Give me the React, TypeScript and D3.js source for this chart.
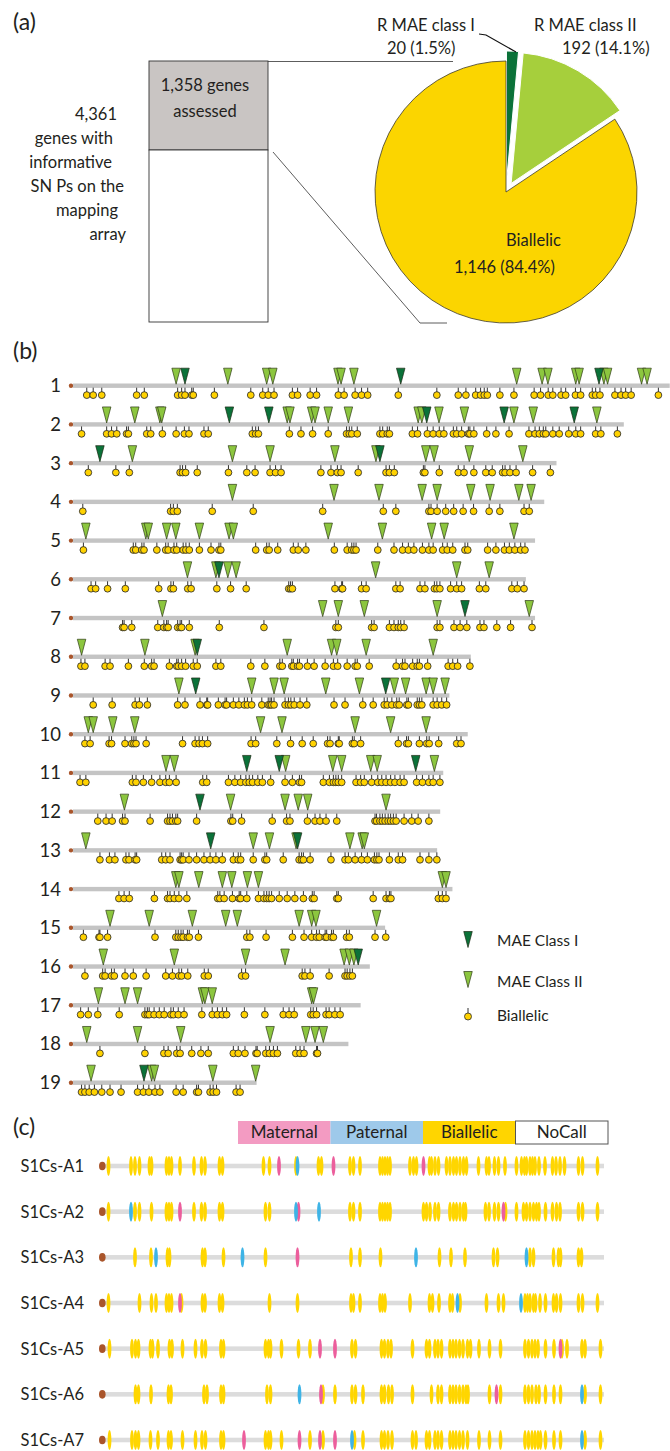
import React from 'react';
import * as d3 from 'd3';

// ---------- panel (a) data ----------
const pieLabels = ['R MAE class I', 'R MAE class II', 'Biallelic'];
const pieValues = [20, 192, 1146];
const piePercents = ['1.5%', '14.1%', '84.4%'];
const leftNote = ['4,361', 'genes with', 'informative', 'SN Ps on the', 'mapping', 'array'];
const assessedNote = ['1,358 genes', 'assessed'];

// ---------- panel (b) data (positions in Mb) ----------
const chromosomes = ['1', '2', '3', '4', '5', '6', '7', '8', '9', '10', '11', '12', '13', '14', '15', '16', '17', '18', '19'];
const chrLengths = [195, 180, 158, 154, 151, 148, 151, 130, 123, 129, 121, 120, 119, 124, 102, 97, 94, 90, 60];

const maeClassI = [
  [36.6, 107.1, 171.9],
  [51.1, 64, 115.6, 140.9, 163.8],
  [8.8, 100.3],
  [],
  [],
  [47.7],
  [128.1],
  [40.6],
  [40.1, 102.2],
  [],
  [56.8, 67.4, 112],
  [41.5],
  [45, 73.4],
  [],
  [],
  [93.2],
  [],
  [],
  [23.2],
];

const maeClassII = [
  [33.7, 50.6, 63.3, 65.3, 86.6, 87.6, 91.8, 145, 153.3, 155.2, 164.3, 165.4, 173.5, 174.7, 185.8, 187.6],
  [11, 20.2, 28.4, 29, 70, 70.9, 78, 79.1, 83.4, 90, 112.8, 114, 119.6, 127.9, 144.1, 150.4, 171.2],
  [19.4, 52.1, 64.4, 85.6, 99, 115.3, 118, 129.5, 147],
  [52.1, 85.3, 100, 114.1, 119, 130, 136.3, 145.7, 149.7],
  [4.2, 23.8, 24.6, 30.6, 33.6, 41.3, 51, 52.4, 83.4, 101.1, 117.2, 121.3, 144.1],
  [37.4, 46.7, 50.6, 53.3, 98.9, 125.4, 136],
  [29.2, 81.6, 86.7, 95.2, 119, 149.1],
  [2.8, 23.5, 39.9, 70, 84.5, 86.2, 95.8, 117.7],
  [34.6, 58.4, 65.7, 69, 82.6, 93.6, 105, 108.7, 115.4, 117.7, 121.6],
  [5, 6.6, 13, 20.2, 61.3, 68.3, 92.2, 103.8, 115.4],
  [30.4, 33.1, 69.5, 84.9, 87.8, 97.3, 99.4, 118.1],
  [16.8, 51.5, 69.3, 73.6, 76.7, 102.3],
  [4.2, 58.9, 64.2, 72.9, 90.5, 94.5, 95.2],
  [33.6, 34.6, 41.1, 48.8, 51.9, 57, 60.6, 120.7, 121.9],
  [12.1, 24.9, 39, 49.9, 53.7, 73.9, 78, 79.4, 99.2],
  [9.9, 33.1, 56.4, 69.3, 88.6, 90.3, 91.8],
  [8.3, 17, 21.1, 42.3, 43.1, 45.5, 78, 78.6],
  [4.5, 21.1, 35.2, 64.4, 76.1, 79.1, 81.8],
  [5.9, 25.7, 26.6, 45.7, 59.7],
];

const biallelicGenes = [
  [4.5, 6.6, 9.4, 20.8, 23.3, 34.2, 35.5, 36.6, 38.8, 39.3, 46.2, 58.1, 62, 63.8, 65.7, 71.7, 73.4, 77.5, 79.6, 86.7, 88.6, 92.2, 94.3, 96.3, 106.3, 118.9, 125.9, 128.4, 131.6, 133.2, 134.4, 135.4, 139.5, 144.1, 150.7, 152.8, 155.3, 156.8, 159.5, 161, 164.2, 165.9, 169.7, 170.8, 172.2, 177.1, 179.1, 180.6, 182.4, 191.3],
  [2.8, 11, 12.6, 14.3, 17.5, 18.1, 24.1, 25.4, 29.2, 33.7, 36.4, 37.9, 42.8, 44.2, 58.6, 59.7, 60.6, 70.7, 74.5, 78.3, 83.4, 89.4, 90.3, 91.1, 92.9, 100.3, 101.2, 102.7, 103.4, 110.9, 112.6, 115.8, 117.7, 119.7, 121.2, 124.3, 125.4, 127, 129.2, 129.7, 131, 135.2, 138.2, 142.5, 149, 151, 152.4, 153.7, 154.5, 156.8, 158.9, 162, 164.3, 165.9, 170.8, 172.5, 177.9],
  [5, 14, 18.4, 35, 35.8, 36.8, 40.6, 50.8, 56.8, 59.5, 64.4, 66.2, 68, 81, 84.3, 86.4, 87.6, 93.2, 102.3, 103.4, 105, 114.5, 115, 119.7, 125.9, 127.8, 131, 134.9, 137, 140.4, 141.2, 142.8, 144.8, 150.2, 156],
  [3.2, 31.9, 32.8, 34.1, 45.5, 58.9, 81.6, 101.4, 105.5, 116.3, 117, 119, 121.8, 124.4, 127.5, 130.9, 136, 139.5, 147.4, 149.1],
  [3.4, 19.7, 20.5, 22.5, 23.2, 27.4, 30.3, 31.1, 33, 33.9, 36, 36.9, 38, 41.3, 45.1, 47.7, 48.3, 59.7, 63.3, 64.1, 66.9, 72, 73.6, 76.1, 85.4, 89.6, 91.1, 91.8, 92.5, 99.6, 104.9, 107.7, 109.6, 111.4, 114.2, 116.3, 117.7, 120.8, 122.3, 124.1, 128.1, 129, 135.5, 138.2, 141, 142.6, 144.4, 146.3, 147.7],
  [5.9, 7.4, 11.3, 17.1, 28, 32, 32.8, 37.5, 38.6, 47, 51.5, 56.6, 70.5, 71.1, 71.7, 85.6, 87.8, 88.1, 94.3, 95.8, 105.5, 106.9, 113.4, 115, 118.1, 118.9, 119.9, 123.4, 125.4, 127, 132.8, 134.9, 143.4, 145.2, 147.4],
  [16.2, 16.7, 19.2, 27.7, 29.7, 30.6, 31.1, 34.2, 35, 35.5, 38, 47.8, 62.4, 85.9, 86.7, 97.6, 98.4, 103.4, 104.9, 106.3, 107.1, 108.2, 119, 119.9, 124.5, 126.5, 128.7, 133, 134.3, 138.5, 143, 150],
  [2.6, 3.9, 10.5, 12.1, 18.1, 23.3, 25.7, 26.5, 31.5, 33.9, 34.4, 35.5, 36.8, 39.3, 40.6, 46.7, 48.3, 58.1, 62.7, 67.6, 68.4, 71.5, 72, 73.4, 74, 76.6, 78.8, 82.4, 85.1, 86.5, 89.6, 92.2, 92.9, 96.8, 105.6, 107.7, 108.5, 111, 112.5, 113.2, 115.9, 122.6, 124.1, 125.7, 129.7],
  [6.6, 12.8, 20.3, 21.7, 24.3, 34.2, 36.6, 41.5, 43.7, 44, 47.5, 49.7, 50.2, 52.4, 54.2, 56, 57, 58.4, 61.7, 63.8, 64.4, 64.9, 65.7, 69.3, 70.4, 71.2, 72.3, 74.2, 76.4, 85.3, 88.9, 94.7, 98.1, 101.7, 102.7, 104.2, 105.8, 106.6, 109.1, 109.6, 112.5, 113.2, 114, 117.7, 119, 120.5, 122.1],
  [3.9, 5.6, 11.8, 12.6, 17, 19.2, 19.9, 20.6, 23.9, 35.8, 39.9, 41.2, 42.3, 44, 58.2, 59.7, 66.6, 71.1, 74.9, 78.5, 83.2, 84, 86.7, 87, 91.3, 91.9, 94, 106.3, 109, 109.6, 113.2, 115.6, 116.4, 119.5, 125.4, 126.8],
  [2.3, 4.2, 19.4, 20.6, 23, 25.7, 28.4, 30.3, 31.5, 33.7, 42.4, 43.7, 50.8, 52.9, 54.8, 56.5, 57.6, 58.7, 60.4, 61.9, 64.6, 69.3, 71.7, 74, 74.7, 81.8, 83.8, 85.1, 85.9, 86.7, 87.8, 92.5, 94, 95.2, 97.6, 99.6, 100.9, 102.3, 103.8, 105.2, 106.9, 108.2, 112.3, 114.2, 116.3, 117.7, 119.9],
  [8.1, 10.8, 12.8, 16.2, 17, 25.2, 30.9, 31.7, 32.5, 33.6, 34.2, 40.4, 51.6, 52.2, 55.1, 65.1, 69.8, 70.9, 76.6, 79.1, 80.7, 82.7, 86.2, 98.7, 99.2, 100.3, 101.1, 102, 103, 103.8, 104.7, 105.6, 108.2, 110.7, 112.8, 116.3],
  [8.8, 11.9, 13.7, 17.3, 18.3, 20.3, 20.8, 29, 30.3, 31.7, 35, 35.5, 36, 37.9, 40.4, 42.8, 44.8, 46.7, 48.8, 52.4, 54, 54.8, 58.9, 62.7, 63.3, 68.7, 73.9, 74.7, 75.3, 77.5, 84.3, 88.9, 90, 92.2, 94.3, 96.2, 98.5, 99.3, 100, 103.4, 106.3, 107.7, 113.4, 116.3, 118.9],
  [15, 16.7, 18.4, 26.6, 30.9, 31.7, 33.1, 34.6, 37.2, 47.3, 48, 49.4, 52.1, 54.3, 54.8, 56.8, 60.6, 62.4, 63.3, 64.1, 64.9, 67.4, 70, 72.5, 75.3, 78.2, 78.8, 86.2, 86.7, 98.1, 102.3, 103.4, 103.9, 119.4, 120.7, 121.9],
  [3.4, 8.5, 8.8, 11.3, 26.8, 33.6, 34.4, 35.3, 36, 37.4, 38, 41, 56.8, 57.8, 63.1, 71.7, 75.5, 78, 79.6, 80.5, 82.4, 82.9, 84.5, 85.1, 89.4, 90.3, 98.7, 102.2],
  [3.9, 9.7, 10.5, 12.6, 13.5, 17, 19.7, 23.9, 30.3, 32.5, 34.6, 35.5, 37.5, 42.9, 44.2, 55.1, 56.4, 74.9, 75.8, 77.5, 83.7, 88.9, 89.6, 90.5, 91.3],
  [2.5, 5, 8.1, 15.1, 23.5, 24.3, 24.9, 26.5, 28.2, 29.8, 32, 32.8, 34.4, 36.3, 42.1, 45.5, 47.2, 48.8, 50.2, 56, 62.7, 68.7, 70.6, 72.3, 77.7, 78.5, 79.6, 82.7, 83.7, 85.6, 87.3],
  [8.8, 23.5, 29.7, 31.1, 33.9, 35, 38.8, 41.8, 44.2, 52.4, 54, 56.2, 59.8, 60.2, 63, 64.2, 65.5, 66.8, 72.8, 74.2, 75.5, 79.6, 79.9],
  [2.8, 3.9, 5.3, 7, 9.4, 12.1, 15.7, 21.1, 23, 24.8, 26.8, 28.4, 33.7, 36, 40.4, 41, 44.8, 45.8, 46.9, 53.3, 54.6],
];

const legendB = ['MAE Class I', 'MAE Class II', 'Biallelic'];

// ---------- panel (c) data (relative position, 0-100) ----------
const samples = ['S1Cs-A1', 'S1Cs-A2', 'S1Cs-A3', 'S1Cs-A4', 'S1Cs-A5', 'S1Cs-A6', 'S1Cs-A7'];
const callTypes = ['Maternal', 'Paternal', 'Biallelic', 'NoCall'];

const biallelicCalls = [
  [0.9, 5.4, 6.2, 7.1, 9.1, 9.5, 12.5, 13, 13.5, 15.2, 18, 19.5, 20.2, 23.1, 23.7, 31.9, 33.1, 38.4, 42.9, 43.5, 49.2, 49.9, 51.2, 55.2, 55.7, 56.2, 56.7, 57.2, 61.2, 61.9, 62.5, 65.1, 65.5, 66.2, 66.9, 68.5, 69.2, 69.9, 70.5, 71.2, 71.9, 72.5, 74.9, 76.5, 77, 78.1, 78.9, 80.2, 82.5, 83.5, 84.1, 84.5, 85.2, 85.7, 86.2, 87, 88.2, 89.7, 90.4, 91.2, 92.1, 94.9, 95.7, 98.7],
  [0.9, 6.2, 7.1, 9.5, 12.5, 13, 13.5, 18, 19.5, 20.2, 23.1, 23.7, 32.3, 33.1, 49.2, 49.9, 51.2, 55.2, 55.7, 56.2, 56.7, 57.2, 63.9, 64.5, 65.2, 66.2, 66.9, 69.2, 69.9, 70.5, 71.2, 71.9, 72.3, 76.3, 77, 78.1, 78.9, 80.3, 82.5, 83.9, 84.5, 85.2, 85.9, 86.5, 87, 88.3, 89.7, 90.5, 91.2, 94.9, 95.7, 98.7],
  [6.2, 9.4, 12.7, 13.1, 19.7, 20.2, 23.9, 32.3, 49.4, 51.2, 55.3, 67.1, 69.4, 72.2, 77.9, 78.7, 85.2, 85.9, 89.9, 90.9, 91.3, 94.9, 95.5],
  [0.9, 7.1, 9.5, 10.4, 12.5, 13, 13.5, 15.5, 19.7, 20.2, 23.1, 23.7, 33.1, 38.7, 49.4, 49.9, 51.2, 55.2, 55.7, 56.2, 61.2, 65.1, 65.7, 67, 69.2, 69.7, 71.2, 76.5, 78.9, 79.9, 84.2, 84.7, 85.2, 85.9, 86.3, 87.2, 88.3, 89.9, 90.5, 91.3, 94.9, 95.7, 98.7],
  [1.1, 5.6, 6.3, 6.9, 9.3, 9.7, 10.8, 13.1, 13.6, 15.7, 18.3, 19.6, 20.3, 23.4, 23.9, 32.3, 32.9, 33.3, 35.5, 38.9, 41.2, 49.6, 50.3, 55.5, 56.1, 56.8, 57.4, 61.7, 64.5, 65.1, 66.2, 66.8, 67.5, 69.2, 69.8, 70.4, 71.1, 71.8, 72.7, 73.3, 75, 77.1, 79.3, 84.2, 84.9, 85.6, 86.2, 86.8, 88.3, 90, 91.6, 92.6, 95.6, 96.2, 99.3],
  [6.3, 6.9, 9.4, 12.9, 13.4, 20, 20.6, 23.4, 23.9, 32.6, 33.3, 43.8, 46.2, 49.6, 50.3, 51.8, 55.5, 56.1, 56.9, 57.6, 61.7, 65.5, 66.8, 67.5, 69.2, 69.8, 70.4, 71.1, 71.8, 72.4, 72.8, 77.1, 79.3, 84.2, 84.9, 85.6, 86.4, 87, 88.3, 90, 91.3, 96.2, 99.3],
  [1.1, 5.6, 6.3, 6.9, 9.3, 10.8, 12.9, 13.4, 15.7, 18.3, 19.6, 20.3, 23.4, 23.9, 32.3, 32.9, 33.3, 35.5, 41.2, 43.8, 50.1, 51.8, 55.5, 56.1, 56.8, 57.6, 61.7, 62.4, 64.5, 65.1, 66.2, 66.8, 67.5, 69.2, 69.8, 70.4, 71.1, 71.8, 72.7, 75, 77.1, 79.3, 84.2, 84.9, 85.6, 86.2, 86.8, 87.3, 88.3, 90, 91.3, 96.2, 99.3],
];
const maternalCalls = [
  [35, 45.9, 63.9],
  [15.2, 38.9, 79.9],
  [38.7],
  [15.2],
  [43.2, 46.2, 91.3],
  [43.4, 78.5],
  [28, 39.1, 43.2, 46.2],
];
const paternalCalls = [
  [38.7],
  [5.4, 38.4, 43],
  [10.4, 27.7, 62.4, 84.5],
  [70.7, 83.4],
  [],
  [39.1, 95.6],
  [49.6, 95.6],
];

const FONT = "Lato, 'Open Sans', sans-serif";
const INK = '#231f20';
const LIGHT_GREEN = '#8cc63f';
const DARK_GREEN = '#0b7239';
const GOLD = '#ffd200';
const CALL_YELLOW = '#ffd600';
const CALL_PINK = '#ec5e9c';
const CALL_BLUE = '#3eb4e6';
const BROWN = '#a9552b';

const App = () => {
  // ---- (a) pie ----
  const pieCx = 506;
  const pieCy = 192;
  const pieR = 131;
  const arcs = d3.pie<number>().sort(null).startAngle(0).endAngle(2 * Math.PI)(pieValues);
  const arcGen = d3.arc<d3.PieArcDatum<number>>().innerRadius(0).outerRadius(pieR);
  const explode = [10, 10, 0];
  const pieFill = [DARK_GREEN, '#a6cf3c', '#fbd500'];

  // ---- (b) chromosome scales ----
  const xB = d3.scaleLinear().domain([0, 195]).range([73, 669.7]);
  const yB = d3.scalePoint<string>().domain(chromosomes).range([385.7, 1082.7]);
  const triH = 16.5;
  const triW = 8.5;
  const tri = (x: number, y: number) =>
    `M${x - triW / 2},${y - triH - 1} L${x + triW / 2},${y - triH - 1} L${x},${y - 1.5} Z`;

  // ---- (c) sample scales ----
  const xC = d3.scaleLinear().domain([0, 100]).range([104, 604]);
  const yC = d3.scalePoint<string>().domain(samples).range([1166, 1440]);
  const legendX = d3.scaleBand<string>().domain(callTypes).range([238, 608]);
  const legendFill = ['#f39bc2', '#9ec9ea', '#ffd500', '#ffffff'];

  return (
    <svg width={670} height={1451} style={{ position: 'absolute', left: 0, top: 0, background: '#fff' }}
      fontFamily={FONT} fill={INK}>
      {/* ================= (a) ================= */}
      <text x={13} y={30} fontSize={23}>(a)</text>
      <rect x={149} y={61} width={119} height={89} fill="#c9c5c3" stroke="#333" strokeWidth={0.9} />
      <rect x={149} y={150} width={119} height={172} fill="#fff" stroke="#333" strokeWidth={0.9} />
      {assessedNote.map((t, i) => (
        <text key={t} x={205} y={90.7 + i * 26} fontSize={16.5} textAnchor="middle">{t}</text>
      ))}
      {leftNote.map((t, i) => (
        <text key={t} x={[117, 113, 112, 124, 118, 126][i]} y={120 + i * 24} fontSize={16.5} textAnchor="end">{t}</text>
      ))}
      <line x1={268} y1={61.5} x2={453} y2={61.5} stroke="#333" strokeWidth={0.8} />
      <polyline points="273,152 420,323 447,323" fill="none" stroke="#333" strokeWidth={0.8} />

      <g transform={`translate(${pieCx},${pieCy})`}>
        {arcs.map((a, i) => {
          const mid = (a.startAngle + a.endAngle) / 2;
          const dx = Math.sin(mid) * explode[i];
          const dy = -Math.cos(mid) * explode[i];
          return (
            <path key={i} d={arcGen(a) || ''} transform={`translate(${dx},${dy})`}
              fill={pieFill[i]} stroke={i === 2 ? '#3d3a2a' : '#ffffff'} strokeWidth={i === 2 ? 0.8 : 1} />
          );
        })}
      </g>
      <polyline points="479,34 486,35 516,52" fill="none" stroke="#111" strokeWidth={1.2} />
      <text x={377} y={30.7} fontSize={16.5}>{pieLabels[0]}</text>
      <text x={387} y={54} fontSize={16.5}>{`${pieValues[0]} (${piePercents[0]})`}</text>
      <text x={534} y={30.7} fontSize={16.5}>{pieLabels[1]}</text>
      <text x={562} y={54.3} fontSize={16.5}>{`${pieValues[1]} (${piePercents[1]})`}</text>
      <text x={506} y={246} fontSize={16.5}>{pieLabels[2]}</text>
      <text x={454} y={273.3} fontSize={16.5}>{`${d3.format(',')(pieValues[2])} (${piePercents[2]})`}</text>

      {/* ================= (b) ================= */}
      <text x={13} y={359} fontSize={23}>(b)</text>
      {chromosomes.map((c, ci) => {
        const y = yB(c) as number;
        return (
          <g key={c}>
            <text x={61} y={y + 6.5} fontSize={18.5} textAnchor="end">{c}</text>
            <circle cx={71} cy={y} r={2.2} fill={BROWN} />
            <rect x={xB(0)} y={y - 2.2} width={xB(chrLengths[ci]) - xB(0)} height={4.4} fill="#c4c4c4" />
            {biallelicGenes[ci].map((p, k) => (
              <line key={'s' + k} x1={xB(p)} x2={xB(p)} y1={y + 2} y2={y + 6.5} stroke="#1a1a1a" strokeWidth={0.9} />
            ))}
            {biallelicGenes[ci].map((p, k) => (
              <circle key={'b' + k} cx={xB(p)} cy={y + 9.4} r={3.4} fill={GOLD} stroke="#2b2b2b" strokeWidth={0.85} />
            ))}
            {maeClassII[ci].map((p, k) => (
              <path key={'m2' + k} d={tri(xB(p), y)} fill={LIGHT_GREEN} stroke="#2e3b16" strokeWidth={0.7} />
            ))}
            {maeClassI[ci].map((p, k) => (
              <path key={'m1' + k} d={tri(xB(p), y)} fill={DARK_GREEN} stroke="#1c2a14" strokeWidth={0.7} />
            ))}
          </g>
        );
      })}
      {/* legend (b) */}
      <path d={tri(468, 949)} fill={DARK_GREEN} stroke="#1c2a14" strokeWidth={0.7} />
      <text x={497} y={946} fontSize={15.5}>{legendB[0]}</text>
      <path d={tri(468, 989)} fill={LIGHT_GREEN} stroke="#2e3b16" strokeWidth={0.7} />
      <text x={497} y={987} fontSize={15.5}>{legendB[1]}</text>
      <line x1={468} x2={468} y1={1008} y2={1013} stroke="#1a1a1a" strokeWidth={0.9} />
      <circle cx={468} cy={1016.5} r={3.5} fill={GOLD} stroke="#2b2b2b" strokeWidth={0.8} />
      <text x={497} y={1021} fontSize={15.5}>{legendB[2]}</text>

      {/* ================= (c) ================= */}
      <text x={13} y={1135} fontSize={23}>(c)</text>
      {callTypes.map((t, i) => (
        <g key={t}>
          <rect x={legendX(t)} y={1121} width={legendX.bandwidth()} height={23}
            fill={legendFill[i]} stroke={t === 'NoCall' ? '#555' : 'none'} strokeWidth={1} />
          <text x={(legendX(t) as number) + legendX.bandwidth() / 2} y={1138} fontSize={17} textAnchor="middle">{t}</text>
        </g>
      ))}
      {samples.map((s, si) => {
        const y = yC(s) as number;
        return (
          <g key={s}>
            <text x={20.5} y={y + 6} fontSize={16.5}>{s}</text>
            <rect x={xC(0)} y={y - 2.3} width={xC(100) - xC(0)} height={4.6} fill="#dcdcdc" />
            <ellipse cx={102.3} cy={y} rx={3.3} ry={4.3} fill={BROWN} />
            {biallelicCalls[si].map((p, k) => (
              <ellipse key={'y' + k} cx={xC(p)} cy={y} rx={1.9} ry={10} fill={CALL_YELLOW} />
            ))}
            {maternalCalls[si].map((p, k) => (
              <ellipse key={'m' + k} cx={xC(p)} cy={y} rx={1.9} ry={10} fill={CALL_PINK} />
            ))}
            {paternalCalls[si].map((p, k) => (
              <ellipse key={'p' + k} cx={xC(p)} cy={y} rx={1.9} ry={10} fill={CALL_BLUE} />
            ))}
          </g>
        );
      })}
    </svg>
  );
};

export default App;
